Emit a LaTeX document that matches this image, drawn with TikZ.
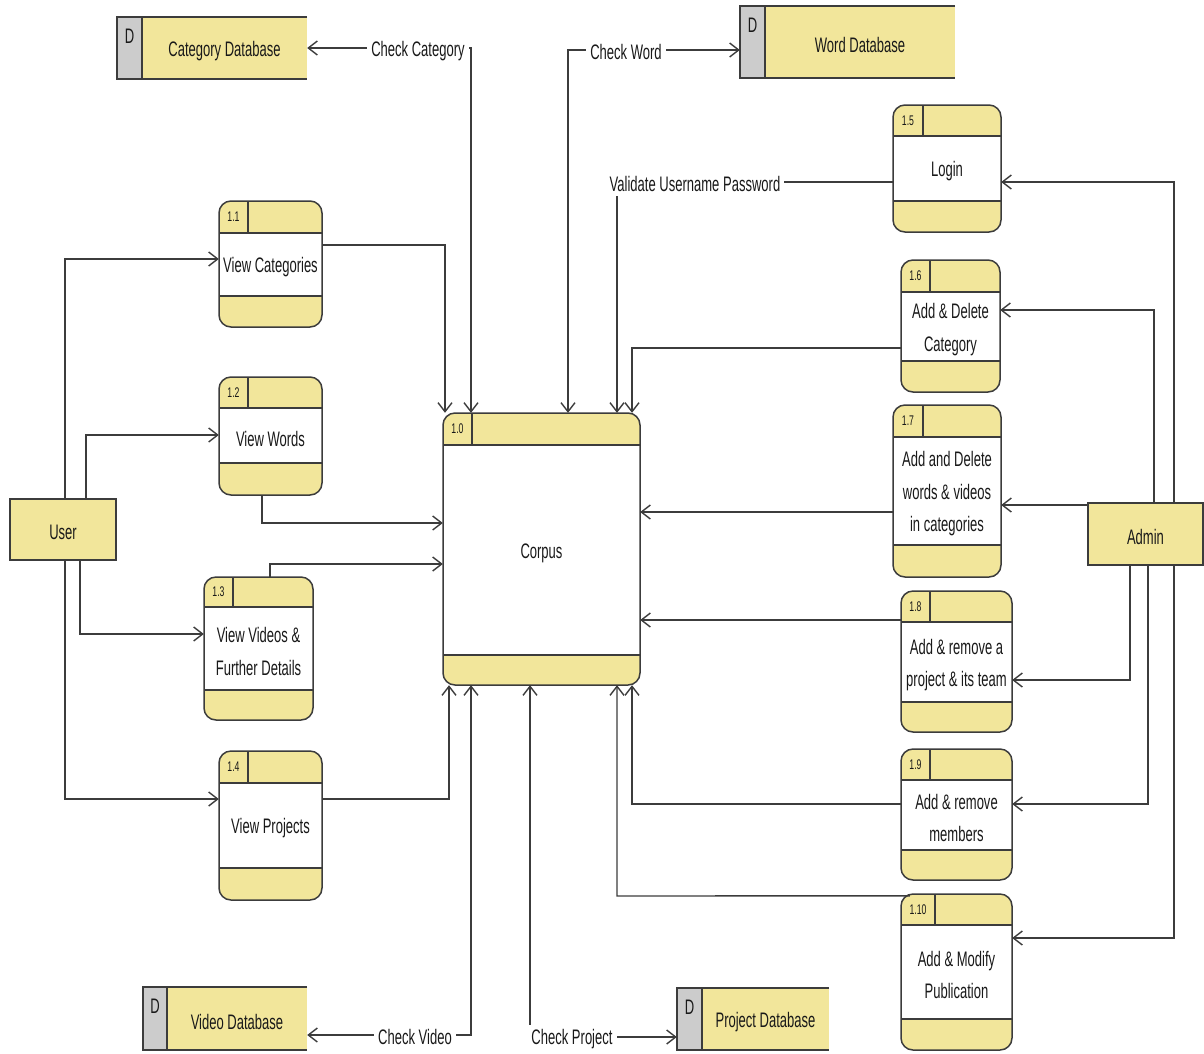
\documentclass[tikz,border=0pt]{standalone}
\usepackage{fontspec}
\setmainfont[FakeStretch=0.62]{Liberation Sans}
\usetikzlibrary{arrows.meta,fit}
\definecolor{yel}{RGB}{242,230,155}
\definecolor{dgray}{RGB}{204,204,204}
\definecolor{linec}{RGB}{60,60,60}
\definecolor{txtc}{RGB}{25,25,25}
\newcommand\mainfs{\fontsize{21}{32.5}\selectfont}
\newcommand\numfs{\fontsize{14}{16}\selectfont}
\tikzset{
 box/.style={draw=linec, line width=1.5pt},
 flow/.style={draw=linec, line width=1.4pt, -{Straight Barb[length=9pt,width=14pt]}},
 flowb/.style={draw=linec, line width=1.4pt, {Straight Barb[length=9pt,width=14pt]}-{Straight Barb[length=9pt,width=14pt]}},
 lbl/.style={fill=white, inner sep=4pt, font=\mainfs, text=txtc, yshift=-2pt},
 ptxt/.style={font=\mainfs, align=center, text=txtc, inner sep=0pt, yshift=-3pt},
 numtxt/.style={font=\numfs, text=txtc, inner sep=0pt},
 frame/.style={inner sep=0pt, draw=none},
 ent/.style={box, fill=yel},
}
% name, x1, y1, x2, y2, header-bottom, footer-top, cell-x, number
\newcommand\procbox[9]{%
 \begin{scope}
  \clip[rounded corners=12pt] (#2,#3) rectangle (#4,#5);
  \fill[yel] (#2,#3) rectangle (#4,#5);
  \fill[white] (#2,#6) rectangle (#4,#7);
 \end{scope}
 \draw[box, rounded corners=12pt] (#2,#3) rectangle (#4,#5);
 \draw[box] (#2,#6) -- (#4,#6) (#2,#7) -- (#4,#7) (#8,#3) -- (#8,#6);
 \node[numtxt] at ({(#2+#8)/2},{(#3+#6)/2}) {#9};
 \node[frame, fit={(#2,#3) (#4,#5)}] (#1) {};
 \coordinate (#1b) at ({(#2+#4)/2},{(#6+#7)/2});
}
% name, x1, y1, xd, x2, y2, text
\newcommand\dstore[7]{%
 \fill[dgray] (#2,#3) rectangle (#4,#6);
 \fill[yel] (#4,#3) rectangle (#5,#6);
 \draw[box] (#5,#3) -- (#2,#3) -- (#2,#6) -- (#5,#6) (#4,#3) -- (#4,#6);
 \node[ptxt, anchor=north] at ({(#2+#4)/2},{#3+9}) {D};
 \node[frame, fit={(#2,#3) (#5,#6)}] (#1) {};
 \node[ptxt] at ({(#4+#5)/2},{(#3+#6)/2}) {#7};
}
\begin{document}
\begin{tikzpicture}[x=1pt,y=-1pt]
\useasboundingbox (0,0) rectangle (1204,1053);
\fill[white] (0,0) rectangle (1204,1053);

% data stores
\dstore{catDB}{117}{17}{142}{307}{79}{Category Database}
\dstore{wordDB}{740}{6}{765}{955}{78}{Word Database}
\dstore{vidDB}{143}{987}{167}{307}{1050}{Video Database}
\dstore{projDB}{677}{988}{702}{829}{1050}{Project Database}

% processes
\procbox{c10}{443}{413}{640}{685}{445}{655}{472}{1.0}
\node[ptxt] (t10) at (c10b) {Corpus};
\procbox{c11}{219}{201}{322}{327}{233}{296}{248}{1.1}
\node[ptxt] (t11) at (c11b) {View Categories};
\procbox{c12}{219}{377}{322}{495}{408}{463}{248}{1.2}
\node[ptxt] (t12) at (c12b) {View Words};
\procbox{c13}{204}{577}{313}{720}{607}{690}{233}{1.3}
\node[ptxt] (t13) at (c13b) {View Videos \&\\Further Details};
\procbox{c14}{219}{751}{322}{900}{783}{868}{248}{1.4}
\node[ptxt] (t14) at (c14b) {View Projects};
\procbox{c15}{893}{105}{1001}{232}{136}{201}{923}{1.5}
\node[ptxt] (t15) at (c15b) {Login};
\procbox{c16}{901}{260}{1000}{392}{292}{361}{930}{1.6}
\node[ptxt] (t16) at (c16b) {Add \& Delete\\Category};
\procbox{c17}{893}{405}{1001}{577}{437}{545}{923}{1.7}
\node[ptxt] (t17) at (c17b) {Add and Delete\\words \& videos\\in categories};
\procbox{c18}{901}{591}{1012}{732}{622}{702}{930}{1.8}
\node[ptxt] (t18) at (c18b) {Add \& remove a\\project \& its team};
\procbox{c19}{901}{749}{1012}{880}{780}{850}{930}{1.9}
\node[ptxt] (t19) at (c19b) {Add \& remove\\members};
\procbox{c110}{901}{894}{1012}{1050}{925}{1019}{935}{1.10}
\node[ptxt] (t110) at (c110b) {Add \& Modify\\Publication};

% external entities
\node[ent, minimum width=106pt, minimum height=61pt, inner sep=0pt] (user) at (63,529.5) {};
\node[ptxt] at (user) {User};
\node[ent, minimum width=115pt, minimum height=62pt, inner sep=0pt] (admin) at (1145.5,534) {};
\node[ptxt] at (admin) {Admin};

% data store flows
\draw[flowb] (471,0 |- c10.north) -- (471,48) -- (catDB.east);
\draw[flowb] (568,0 |- c10.north) -- (568,50) -- (wordDB.west |- 0,50);
\draw[flow] (c15.west |- 0,182) -- (617,182) -- (617,0 |- c10.north);
\draw[flowb] (471,0 |- c10.south) -- (471,1035) -- (vidDB.east |- 0,1035);
\draw[flowb] (530,0 |- c10.south) -- (530,1037) -- (projDB.west |- 0,1037);

% user side
\draw[flow] (65,0 |- user.north) -- (65,259) -- (c11.west |- 0,259);
\draw[flow] (86,0 |- user.north) -- (86,435) -- (c12.west |- 0,435);
\draw[flow] (80,0 |- user.south) -- (80,634) -- (c13.west |- 0,634);
\draw[flow] (65,0 |- user.south) -- (65,799) -- (c14.west |- 0,799);

% left processes to corpus
\draw[flow] (c11.east |- 0,245) -- (445,245) -- (445,0 |- c10.north);
\draw[flow] (262,0 |- c12.south) -- (262,523) -- (c10.west |- 0,523);
\draw[flow] (270,0 |- c13.north) -- (270,564) -- (c10.west |- 0,564);
\draw[flow] (c14.east |- 0,799) -- (449,799) -- (449,0 |- c10.south);

% admin side
\draw[flow] (1174,0 |- admin.north) -- (1174,182) -- (c15.east |- 0,182);
\draw[flow] (1154,0 |- admin.north) -- (1154,310) -- (c16.east |- 0,310);
\draw[flow] (admin.west |- 0,505) -- (c17.east |- 0,505);
\draw[flow] (1130,0 |- admin.south) -- (1130,680) -- (c18.east |- 0,680);
\draw[flow] (1148,0 |- admin.south) -- (1148,804) -- (c19.east |- 0,804);
\draw[flow] (1174,0 |- admin.south) -- (1174,938) -- (c110.east |- 0,938);

% right processes to corpus
\draw[flow] (c16.west |- 0,348) -- (632,348) -- (632,0 |- c10.north);
\draw[flow] (c17.west |- 0,512) -- (c10.east |- 0,512);
\draw[flow] (c18.west |- 0,620) -- (c10.east |- 0,620);
\draw[flow] (c19.west |- 0,804) -- (632,804) -- (632,0 |- c10.south);
\draw[flow] ([xshift=9pt,yshift=-2pt]c110.north west) -- (617,896) -- (617,0 |- c10.south);

% flow labels
\node[lbl] (lcc) at (418,49) {Check Category};
\node[lbl] (lcw) at (626,50) {Check Word};
\node[lbl] (lvu) at (695,182) {Validate Username Password};
\node[lbl] (lcv) at (415,1035) {Check Video};
\node[lbl] (lcp) at (572,1037) {Check Project};
\end{tikzpicture}
\end{document}
